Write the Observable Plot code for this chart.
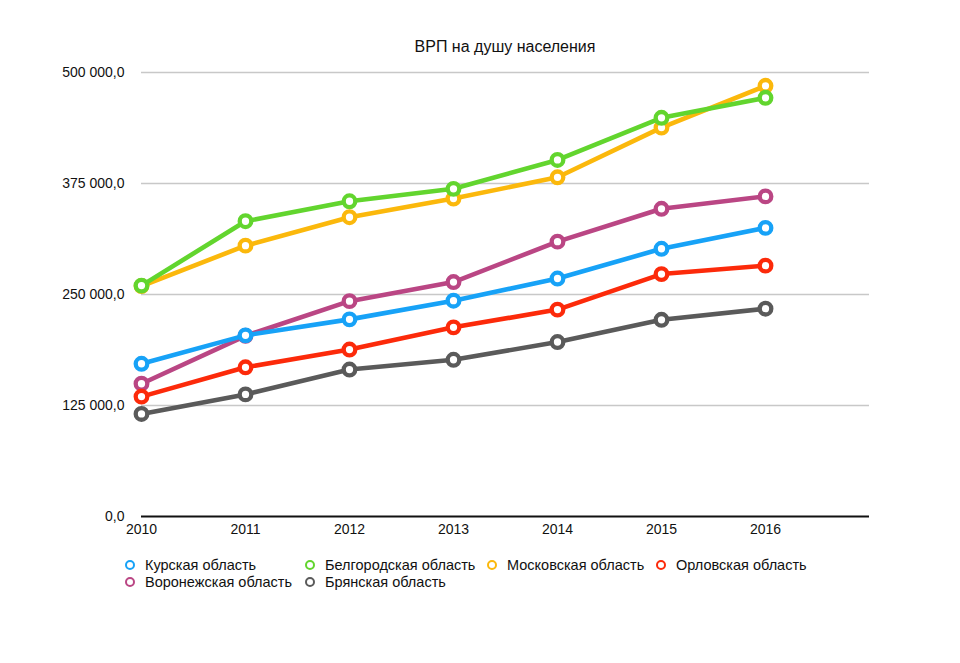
<!DOCTYPE html>
<html><head><meta charset="utf-8">
<script src="https://cdn.jsdelivr.net/npm/d3@7"></script>
<script src="https://cdn.jsdelivr.net/npm/@observablehq/plot@0.6"></script>
<style>
body{margin:0;background:#fff;font-family:"Liberation Sans",Arial,sans-serif;}
#wrap{position:relative;width:960px;height:663px;overflow:hidden;background:#fff}
#title{position:absolute;top:38px;left:505px;transform:translateX(-50%);font-size:16px;color:#111;white-space:nowrap}
#chart{position:absolute;left:0;top:0}
.leg{position:absolute;font-size:14.5px;color:#111;display:flex;align-items:center;white-space:nowrap;transform:translateY(-50%)}
.leg i{display:inline-block;box-sizing:border-box;width:10px;height:10px;border-radius:50%;border:2.6px solid;background:#fff;margin-right:10px}
</style>
</head><body>
<div id="wrap">
<div id="chart"></div>
<div id="title">ВРП на душу населения</div>
<div id="legend"></div>
</div>
<script>
const years = [2010, 2011, 2012, 2013, 2014, 2015, 2016];
const yTicks = [0, 125000, 250000, 375000, 500000];

const seriesNames = ["Курская область", "Белгородская область", "Московская область", "Орловская область", "Воронежская область", "Брянская область"];
const seriesColors = ["#17a2f7", "#62d52e", "#fbb80c", "#fc2a0a", "#ba4684", "#5a5a5a"];

const kursk    = [172000, 204000, 222000, 243000, 268000, 301500, 325000];
const belgorod = [260000, 332500, 355000, 369000, 401500, 449000, 471500];
const moscow   = [259500, 305000, 337000, 358000, 382000, 438000, 485000];
const orel     = [135000, 168000, 188000, 213000, 233000, 273000, 282500];
const voronezh = [149500, 203500, 242500, 264000, 309500, 346500, 360500];
const bryansk  = [115500, 137500, 165500, 176500, 196500, 221500, 234000];

const seriesValues = [kursk, belgorod, moscow, orel, voronezh, bryansk];

const loc = d3.formatLocale({decimal: ",", thousands: " ", grouping: [3], currency: ["", ""]});
const fmt = loc.format(",.1f");

const tables = seriesNames.map((name, i) => years.map((yr, j) => ({series: name, year: yr, value: seriesValues[i][j], color: seriesColors[i]})));

const seriesMarks = [];
for (let i = seriesNames.length - 1; i >= 0; i--) {
  seriesMarks.push(Plot.line(tables[i], {x: "year", y: "value", stroke: seriesColors[i], strokeWidth: 4.6, strokeLinejoin: "round"}));
  seriesMarks.push(Plot.dot(tables[i], {x: "year", y: "value", r: 5.8, fill: "white", stroke: seriesColors[i], strokeWidth: 4.3}));
}

const chart = Plot.plot({
  width: 960, height: 540,
  marginLeft: 141, marginRight: 91, marginTop: 72, marginBottom: 24,
  style: {fontFamily: "Liberation Sans, Arial, sans-serif", fontSize: "14px", color: "#111", background: "#fff", overflow: "visible"},
  x: {domain: [2010, 2017], label: null},
  y: {domain: [0, 500000], label: null},
  marks: [
    Plot.ruleY(yTicks.filter(d => d > 0), {stroke: "#c8c8c8", strokeWidth: 1.5}),
    Plot.axisY(yTicks, {tickSize: 0, tickPadding: 17, tickFormat: fmt, fontSize: 14, label: null}),
    Plot.axisX(years, {tickSize: 0, tickPadding: 8, tickFormat: d => String(d), fontSize: 14, label: null}),
    Plot.ruleY([0], {stroke: "#111", strokeWidth: 2}),
    ...seriesMarks
  ]
});
document.getElementById("chart").appendChild(chart);

const legPos = [[130, 565], [310, 565], [492, 565], [661, 565], [130, 582], [310, 582]];
const legend = document.getElementById("legend");
seriesNames.forEach((name, i) => {
  const d = document.createElement("div");
  d.className = "leg";
  d.style.left = (legPos[i][0] - 5) + "px";
  d.style.top = legPos[i][1] + "px";
  const m = document.createElement("i");
  m.style.borderColor = seriesColors[i];
  d.appendChild(m);
  d.appendChild(document.createTextNode(name));
  legend.appendChild(d);
});
</script>
</body></html>
